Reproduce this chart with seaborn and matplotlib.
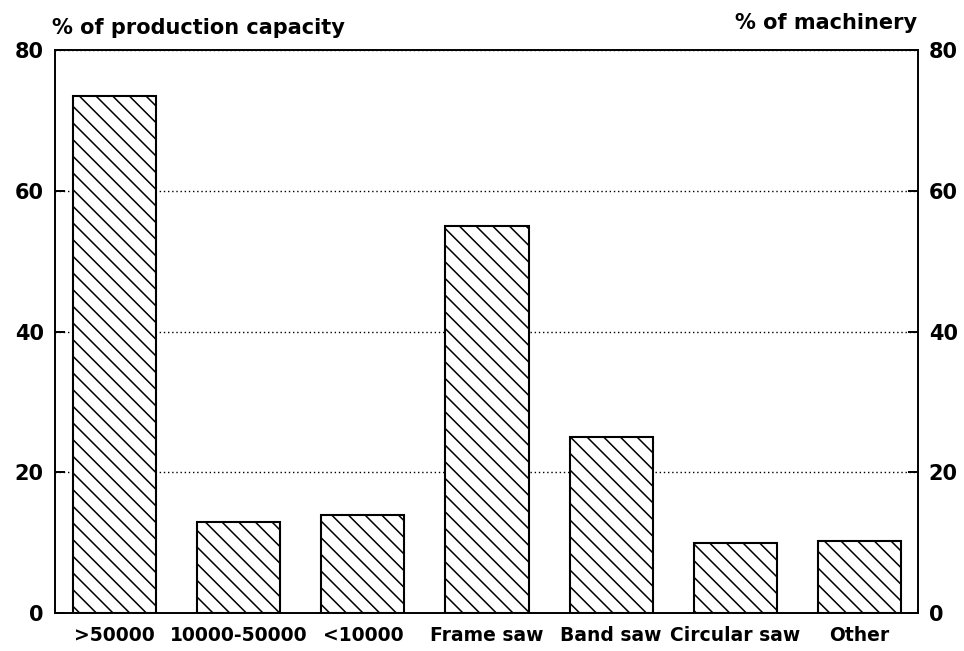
import matplotlib
matplotlib.use("Agg")
import matplotlib.pyplot as plt
import seaborn as sns
import pandas as pd

# values
categories = [">50000", "10000-50000", "<10000",
              "Frame saw", "Band saw", "Circular saw", "Other"]
capacity_pct = [73.5, 13.0, 14.0]          # left axis: % of production capacity
machinery_pct = [55.0, 25.0, 10.0, 10.3]   # right axis: % of machinery
y_ticks = [0, 20, 40, 60, 80]

df = pd.DataFrame({
    "category": categories,
    "value": capacity_pct + machinery_pct,
})

sns.set_theme(style="white")
plt.rcParams["font.family"] = ["DejaVu Sans"]
plt.rcParams["font.weight"] = "bold"
plt.rcParams["text.color"] = "black"
plt.rcParams["hatch.linewidth"] = 1.1

fig = plt.figure(figsize=(9.64, 6.51), dpi=100)
ax = fig.add_axes([0.057, 0.058, 0.895, 0.865])

sns.barplot(data=df, x="category", y="value", order=categories,
            color="white", edgecolor="black", linewidth=1.5,
            hatch="\\\\", width=0.67, ax=ax, zorder=2)
for p in ax.patches:
    p.set_facecolor("white")
    p.set_edgecolor("black")

ax.set_xlim(-0.48, 6.47)
ax.set_ylim(0, 80)
ax.set_yticks(y_ticks)
ax.set_xlabel("")
ax.set_ylabel("")
ax.set_axisbelow(True)
ax.grid(axis="y", linestyle=(0, (1, 2)), color="black", linewidth=1.0)
ax.grid(axis="x", visible=False)

for s in ax.spines.values():
    s.set_visible(True)
    s.set_color("black")
    s.set_linewidth(1.4)

ax.tick_params(axis="y", direction="in", length=7, width=1.4, pad=8,
               labelsize=15, colors="black", left=True)
ax.tick_params(axis="x", length=0, pad=9, labelsize=13.5, colors="black")
for lbl in ax.get_xticklabels() + ax.get_yticklabels():
    lbl.set_fontweight("bold")

ax2 = ax.twinx()
ax2.set_ylim(0, 80)
ax2.set_yticks(y_ticks)
ax2.tick_params(axis="y", direction="in", length=7, width=1.4, pad=8,
                labelsize=15, colors="black", right=True)
for lbl in ax2.get_yticklabels():
    lbl.set_fontweight("bold")
ax2.grid(False)
for s in ax2.spines.values():
    s.set_visible(False)

fig.text(0.054, 0.957, "% of production capacity", fontsize=15,
         fontweight="bold", color="black", ha="left", va="center")
fig.text(0.951, 0.965, "% of machinery", fontsize=15,
         fontweight="bold", color="black", ha="right", va="center")

fig.savefig("out.png", dpi=100)
